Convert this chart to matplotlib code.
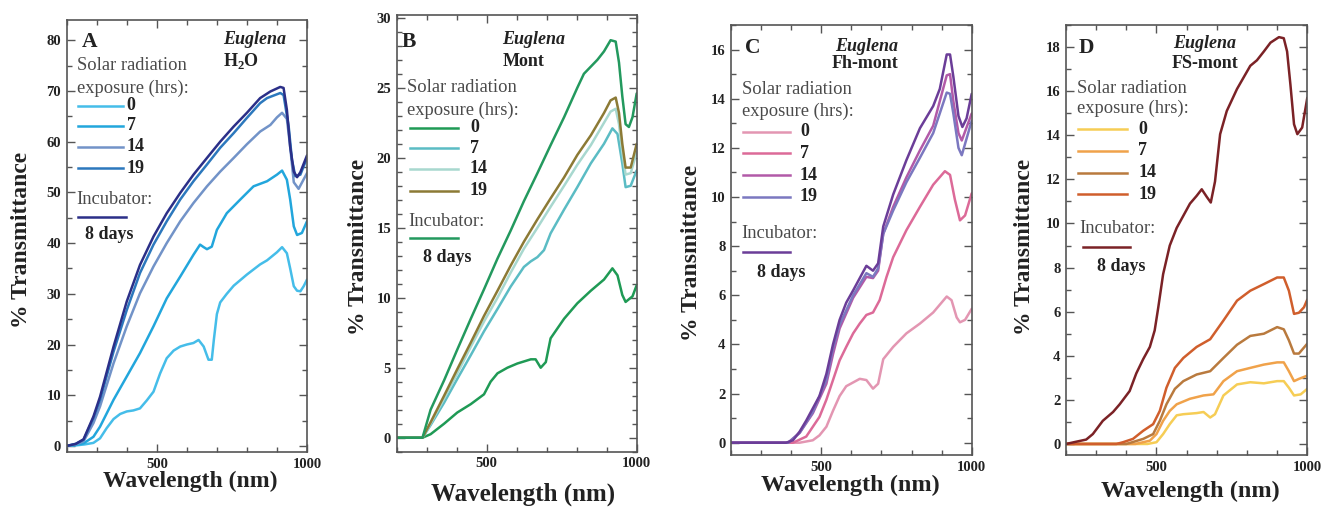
import matplotlib
matplotlib.use('Agg')
import matplotlib.pyplot as plt
from matplotlib.lines import Line2D
from matplotlib.ticker import MultipleLocator, FixedLocator

# ---------------- DATA ----------------
exposure_labels = ['0', '7', '14', '19']
panel_letters = ['A', 'B', 'C', 'D']
panel_media = ['H$_2$O', 'Mont', 'Fh-mont', 'FS-mont']

# Panel A (H2O)
A_wl_0 = [200, 230, 260, 289, 311, 333, 356, 378, 400, 422, 444, 467, 489, 511, 533, 556, 578, 600, 622, 639, 656, 672, 683, 690, 700, 711, 733, 756, 800, 844, 867, 900, 917, 933, 944, 956, 967, 978, 989, 1000]
A_T_0 = [0, 0.1, 0.3, 0.6, 1.5, 3.5, 5.3, 6.3, 6.8, 7.0, 7.4, 9.0, 10.7, 14.3, 17.3, 18.8, 19.6, 20.0, 20.3, 20.9, 19.6, 17.0, 17.0, 21.0, 26.0, 28.3, 30.0, 31.6, 33.8, 35.8, 36.6, 38.2, 39.2, 38.0, 35.0, 31.5, 30.6, 30.5, 31.5, 32.8]
A_wl_7 = [200, 230, 256, 289, 311, 356, 400, 444, 489, 533, 578, 622, 644, 656, 667, 683, 700, 733, 778, 822, 867, 900, 917, 933, 944, 956, 967, 983, 1000]
A_T_7 = [0, 0.2, 0.5, 1.8, 3.8, 9.1, 13.7, 18.3, 23.6, 29.1, 33.4, 37.7, 39.7, 39.2, 38.8, 39.3, 42.6, 45.9, 48.6, 51.2, 52.2, 53.5, 54.3, 52.5, 48.6, 43.3, 41.6, 42.0, 44.3]
A_wl_14 = [200, 230, 256, 289, 311, 356, 400, 444, 489, 533, 578, 622, 667, 711, 756, 800, 844, 878, 900, 917, 933, 944, 956, 972, 1000]
A_T_14 = [0, 0.3, 0.9, 4.5, 7.8, 16.3, 23.6, 30.1, 35.4, 40.0, 44.3, 47.9, 51.2, 54.1, 56.8, 59.5, 62.0, 63.3, 64.8, 65.7, 64.5, 59.0, 52.0, 50.7, 53.8]
A_wl_19 = [200, 230, 256, 289, 311, 356, 400, 444, 489, 533, 578, 622, 667, 711, 756, 800, 844, 867, 911, 922, 939, 950, 961, 978, 1000]
A_T_19 = [0, 0.4, 1.2, 5.5, 9.1, 18.6, 26.8, 34.1, 39.7, 44.3, 48.6, 52.2, 55.5, 58.8, 61.7, 64.7, 67.6, 68.6, 69.6, 69.2, 63.0, 56.4, 53.2, 53.5, 56.8]
A_wl_inc = [200, 230, 256, 289, 311, 356, 400, 444, 489, 533, 578, 622, 667, 711, 756, 800, 844, 878, 911, 922, 933, 944, 956, 967, 978, 1000]
A_T_inc = [0, 0.4, 1.3, 5.8, 9.7, 19.6, 28.5, 35.7, 41.3, 45.9, 49.9, 53.5, 56.8, 60.0, 63.0, 65.7, 68.6, 69.9, 70.8, 70.6, 66.3, 59.0, 54.1, 53.0, 54.0, 57.3]

# Panel B (Mont)
B_wl_0 = [200, 286, 313, 358, 402, 447, 491, 513, 536, 569, 602, 647, 663, 680, 697, 713, 758, 802, 847, 891, 919, 936, 952, 963, 986, 1000]
B_T_0 = [0, 0, 0.25, 1.0, 1.8, 2.4, 3.1, 4.0, 4.6, 5.0, 5.3, 5.6, 5.6, 5.0, 5.4, 7.1, 8.5, 9.6, 10.5, 11.3, 12.1, 11.6, 10.2, 9.7, 10.1, 10.9]
B_wl_7 = [200, 286, 313, 358, 402, 447, 491, 536, 580, 624, 647, 669, 691, 713, 758, 802, 847, 891, 919, 936, 952, 963, 980, 1000]
B_T_7 = [0, 0, 0.9, 2.5, 4.2, 5.9, 7.6, 9.2, 10.8, 12.2, 12.6, 12.9, 13.4, 14.6, 16.3, 17.9, 19.6, 21.0, 22.1, 21.7, 19.6, 17.9, 18.0, 19.1]
B_wl_14 = [200, 286, 313, 358, 402, 447, 491, 536, 580, 624, 669, 713, 758, 802, 847, 891, 913, 930, 941, 952, 963, 980, 1000]
B_T_14 = [0, 0, 1.0, 2.8, 4.6, 6.5, 8.3, 10.0, 11.8, 13.5, 15.0, 16.5, 18.0, 19.5, 20.9, 22.5, 23.3, 23.5, 22.4, 20.4, 18.8, 18.9, 20.4]
B_wl_19 = [200, 286, 313, 358, 402, 447, 491, 536, 580, 624, 669, 713, 758, 802, 847, 891, 913, 930, 941, 952, 963, 980, 1000]
B_T_19 = [0, 0, 1.1, 3.0, 4.9, 6.8, 8.7, 10.5, 12.3, 14.0, 15.6, 17.1, 18.6, 20.2, 21.6, 23.2, 24.1, 24.3, 23.2, 21.0, 19.3, 19.3, 21.0]
B_wl_inc = [200, 286, 313, 358, 402, 447, 491, 536, 580, 624, 669, 713, 758, 802, 824, 869, 891, 913, 930, 941, 952, 963, 974, 986, 1000]
B_T_inc = [0, 0, 2.0, 4.1, 6.3, 8.5, 10.6, 12.8, 14.8, 16.9, 18.9, 20.9, 22.9, 25.0, 26.0, 27.0, 27.6, 28.4, 28.3, 26.8, 24.4, 22.4, 22.2, 22.9, 24.6]

# Panel C (Fh-mont)
C_wl_0 = [200, 428, 472, 494, 517, 539, 561, 583, 628, 650, 672, 689, 706, 739, 783, 828, 872, 917, 933, 950, 961, 978, 1000]
C_T_0 = [0, 0, 0.1, 0.3, 0.65, 1.3, 1.9, 2.3, 2.6, 2.55, 2.2, 2.4, 3.4, 3.9, 4.45, 4.85, 5.3, 5.95, 5.8, 5.1, 4.9, 5.0, 5.45]
C_wl_7 = [200, 406, 450, 472, 494, 517, 539, 561, 583, 606, 628, 650, 672, 694, 717, 739, 783, 828, 872, 911, 928, 944, 961, 978, 1000]
C_T_7 = [0, 0, 0.25, 0.65, 1.05, 1.75, 2.55, 3.35, 3.9, 4.45, 4.85, 5.2, 5.3, 5.8, 6.75, 7.55, 8.65, 9.6, 10.5, 11.05, 10.9, 9.9, 9.05, 9.25, 10.15]
C_wl_14 = [200, 390, 428, 472, 517, 539, 561, 606, 650, 672, 689, 706, 739, 783, 828, 872, 917, 928, 939, 956, 967, 1000]
C_T_14 = [0, 0, 0.4, 1.2, 2.4, 3.6, 4.65, 5.9, 6.75, 6.7, 7.0, 8.5, 9.6, 10.8, 11.9, 12.9, 14.95, 15.0, 13.9, 12.6, 12.3, 13.4]
C_wl_19 = [200, 390, 428, 472, 517, 539, 561, 606, 650, 672, 689, 706, 739, 783, 828, 872, 917, 928, 939, 956, 967, 1000]
C_T_19 = [0, 0, 0.4, 1.25, 2.55, 3.85, 4.8, 6.0, 6.9, 6.75, 7.1, 8.5, 9.45, 10.6, 11.6, 12.6, 14.25, 14.2, 13.4, 12.0, 11.7, 13.1]
C_wl_inc = [200, 383, 406, 428, 450, 472, 494, 517, 539, 561, 583, 606, 628, 650, 672, 689, 706, 739, 783, 828, 872, 894, 917, 928, 939, 956, 969, 983, 1000]
C_T_inc = [0, 0, 0.1, 0.45, 0.9, 1.4, 1.9, 2.8, 4.0, 5.0, 5.7, 6.2, 6.7, 7.2, 7.0, 7.3, 8.8, 10.1, 11.5, 12.8, 13.7, 14.4, 15.8, 15.8, 14.9, 13.3, 12.85, 13.2, 14.2]

# Panel D (FS-mont)
D_wl_0 = [200, 470, 500, 522, 544, 567, 589, 633, 656, 678, 694, 722, 767, 811, 856, 900, 922, 939, 956, 978, 1000]
D_T_0 = [0, 0, 0.08, 0.45, 0.9, 1.3, 1.35, 1.4, 1.45, 1.2, 1.35, 2.2, 2.7, 2.8, 2.75, 2.85, 2.85, 2.55, 2.2, 2.25, 2.5]
D_wl_7 = [200, 430, 478, 500, 522, 544, 567, 611, 656, 689, 722, 767, 811, 856, 900, 922, 939, 956, 972, 1000]
D_T_7 = [0, 0, 0.15, 0.45, 1.05, 1.5, 1.8, 2.05, 2.2, 2.25, 2.85, 3.3, 3.45, 3.6, 3.7, 3.7, 3.3, 2.85, 2.95, 3.1]
D_wl_14 = [200, 400, 456, 489, 511, 533, 561, 589, 633, 678, 722, 767, 811, 856, 900, 922, 939, 956, 972, 1000]
D_T_14 = [0, 0, 0.23, 0.45, 1.05, 1.8, 2.5, 2.85, 3.15, 3.3, 3.9, 4.5, 4.9, 5.0, 5.3, 5.2, 4.7, 4.1, 4.1, 4.55]
D_wl_19 = [200, 367, 389, 422, 456, 489, 511, 533, 561, 589, 633, 678, 722, 767, 811, 856, 900, 922, 939, 956, 972, 989, 1000]
D_T_19 = [0, 0, 0.08, 0.23, 0.6, 0.9, 1.5, 2.55, 3.45, 3.9, 4.4, 4.75, 5.6, 6.5, 6.95, 7.25, 7.55, 7.55, 6.95, 5.9, 5.95, 6.2, 6.55]
D_wl_inc = [200, 233, 267, 289, 322, 356, 378, 411, 433, 456, 478, 494, 506, 522, 544, 567, 589, 611, 633, 650, 667, 680, 694, 711, 733, 767, 811, 833, 856, 878, 906, 922, 933, 944, 956, 967, 983, 1000]
D_T_inc = [0, 0.1, 0.2, 0.45, 1.05, 1.45, 1.8, 2.4, 3.2, 3.85, 4.4, 5.15, 6.2, 7.7, 9.0, 9.8, 10.35, 10.9, 11.25, 11.55, 11.2, 10.95, 11.9, 14.05, 15.1, 16.1, 17.15, 17.4, 17.8, 18.2, 18.45, 18.4, 17.8, 16.3, 14.5, 14.05, 14.35, 15.7]

# ---------------- STYLE / LAYOUT ----------------
W, H = 1324, 507
plt.rcParams['font.family'] = ['Liberation Serif', 'DejaVu Serif']
plt.rcParams['mathtext.fontset'] = 'custom'
plt.rcParams['mathtext.rm'] = 'Liberation Serif:bold'
plt.rcParams['mathtext.bf'] = 'Liberation Serif:bold'
fig = plt.figure(figsize=(W / 100, H / 100), dpi=100)

def fx(px):
    return px / W

def fy(py):
    return 1 - py / H

panels = [
    dict(box=(66.7, 20, 307, 452), ylim=(-1.2, 84), major=10, minor=5,
         data=[(A_wl_0, A_T_0), (A_wl_7, A_T_7), (A_wl_14, A_T_14), (A_wl_19, A_T_19), (A_wl_inc, A_T_inc)],
         colors=['#45bde9', '#22a6dc', '#7293c8', '#2c78bd', '#2b2f88'],
         letter=(81.7, 42), eug=(222.7, 40), med=(222.7, 61), solar=(76.7, 65, 88.3),
         ent_y=[106, 126, 146.7, 168.3], ent_x=(78.3, 123.3), ent_lab=126.7,
         inc=(76, 200), inc_line=(78.3, 126, 217.3), days=(85, 235),
         ylab=(21.7, 240), xlab=(190.7, 481.7, 17)),
    dict(box=(396.7, 15, 636.7, 451.7), ylim=(-1.0, 30.2), major=5, minor=1,
         data=[(B_wl_0, B_T_0), (B_wl_7, B_T_7), (B_wl_14, B_T_14), (B_wl_19, B_T_19), (B_wl_inc, B_T_inc)],
         colors=['#1f9a55', '#5bbcc4', '#a8d8cf', '#8c7a35', '#23995e'],
         letter=(401.7, 41.7), eug=(501.7, 40), med=(503, 61.7), solar=(407.3, 87.3, 110),
         ent_y=[127.7, 148.3, 169, 190.7], ent_x=(410, 458.3), ent_lab=470,
         inc=(408.3, 221.7), inc_line=(410, 458.3, 238.3), days=(423.3, 257.3),
         ylab=(358, 247), xlab=(523, 494, 18)),
    dict(box=(731, 25, 971.7, 455), ylim=(-0.5, 17), major=2, minor=1,
         data=[(C_wl_0, C_T_0), (C_wl_7, C_T_7), (C_wl_14, C_T_14), (C_wl_19, C_T_19), (C_wl_inc, C_T_inc)],
         colors=['#e396b2', '#dc6a98', '#b25aa8', '#7b78c0', '#6b3d98'],
         letter=(745, 48.3), eug=(835, 46.7), med=(831.7, 63.3), solar=(741.7, 90, 111.7),
         ent_y=[131.7, 153.3, 175, 196.7], ent_x=(743.3, 790), ent_lab=800,
         inc=(741.7, 233.3), inc_line=(743.3, 790, 252.3), days=(756.7, 272.3),
         ylab=(691.7, 253), xlab=(850, 485, 17.5)),
    dict(box=(1066, 25, 1307.3, 455), ylim=(-0.5, 19), major=2, minor=1,
         data=[(D_wl_0, D_T_0), (D_wl_7, D_T_7), (D_wl_14, D_T_14), (D_wl_19, D_T_19), (D_wl_inc, D_T_inc)],
         colors=['#f6cd55', '#f0a24a', '#b97a3e', '#d05e2c', '#7b2226'],
         letter=(1078.3, 48.3), eug=(1173.3, 43.3), med=(1171.7, 63.3), solar=(1077.3, 88.3, 108.3),
         ent_y=[129.3, 150.7, 172.7, 194.3], ent_x=(1078.3, 1126.7), ent_lab=1138.3,
         inc=(1079.3, 228.3), inc_line=(1083.3, 1130, 246.7), days=(1096.7, 266.7),
         ylab=(1025, 247), xlab=(1190, 491.7, 17.5)),
]

SPINE = '#555555'
TXT = '#222222'
LEG = '#4a4a4a'
LW = 1.8

for i, p in enumerate(panels):
    l, t, r, b = p['box']
    ax = fig.add_axes([fx(l), fy(b), fx(r) - fx(l), fy(t) - fy(b)])
    for (wl, T), c in zip(p['data'], p['colors']):
        ax.plot(wl, T, color=c, lw=LW, solid_joinstyle='round', solid_capstyle='round')
    ax.set_xlim(200, 1000)
    ax.set_ylim(*p['ylim'])
    ax.xaxis.set_major_locator(FixedLocator([500, 1000]))
    ax.xaxis.set_minor_locator(MultipleLocator(100))
    ax.yaxis.set_major_locator(MultipleLocator(p['major']))
    ax.yaxis.set_minor_locator(MultipleLocator(p['minor']))
    ax.tick_params(which='both', direction='in', top=True, right=True, color=SPINE)
    ax.tick_params(which='major', length=6, width=1.0, labelsize=10.5, pad=4, labelcolor=TXT)
    ax.tick_params(which='minor', length=3.5, width=1.0)
    for lab in ax.get_xticklabels() + ax.get_yticklabels():
        lab.set_fontweight('bold')
    for s in ax.spines.values():
        s.set_color(SPINE)
        s.set_linewidth(1.2)

    # axis labels
    yx, yy = p['ylab']
    fig.text(fx(yx), fy(yy), '% Transmittance', rotation=90, ha='center', va='center',
             fontsize=17, fontweight='bold', color=TXT)
    xx, xy, xs = p['xlab']
    fig.text(fx(xx), fy(xy), 'Wavelength (nm)', ha='center', va='center',
             fontsize=xs, fontweight='bold', color=TXT)

    # annotations
    fig.text(fx(p['letter'][0]), fy(p['letter'][1]), panel_letters[i], ha='left', va='center',
             fontsize=15.5, fontweight='bold', color=TXT)
    fig.text(fx(p['eug'][0]), fy(p['eug'][1]), 'Euglena', ha='left', va='center',
             fontsize=13, fontweight='bold', style='italic', color=TXT)
    fig.text(fx(p['med'][0]), fy(p['med'][1]), panel_media[i], ha='left', va='center',
             fontsize=13, fontweight='bold', color=TXT)
    sx, sy1, sy2 = p['solar']
    fig.text(fx(sx), fy(sy1), 'Solar radiation', ha='left', va='center', fontsize=13.3, color=LEG)
    fig.text(fx(sx), fy(sy2), 'exposure (hrs):', ha='left', va='center', fontsize=13.3, color=LEG)
    x0, x1 = p['ent_x']
    for ey, lab, c in zip(p['ent_y'], exposure_labels, p['colors'][:4]):
        fig.add_artist(Line2D([fx(x0), fx(x1)], [fy(ey), fy(ey)], color=c, lw=LW))
        fig.text(fx(p['ent_lab']), fy(ey), lab, ha='left', va='center', fontsize=13,
                 fontweight='bold', color=TXT)
    fig.text(fx(p['inc'][0]), fy(p['inc'][1]), 'Incubator:', ha='left', va='center',
             fontsize=13.3, color=LEG)
    ix0, ix1, iy = p['inc_line']
    fig.add_artist(Line2D([fx(ix0), fx(ix1)], [fy(iy), fy(iy)], color=p['colors'][4], lw=LW))
    fig.text(fx(p['days'][0]), fy(p['days'][1]), '8 days', ha='left', va='center',
             fontsize=13, fontweight='bold', color=TXT)

fig.savefig('out.png', dpi=100)
